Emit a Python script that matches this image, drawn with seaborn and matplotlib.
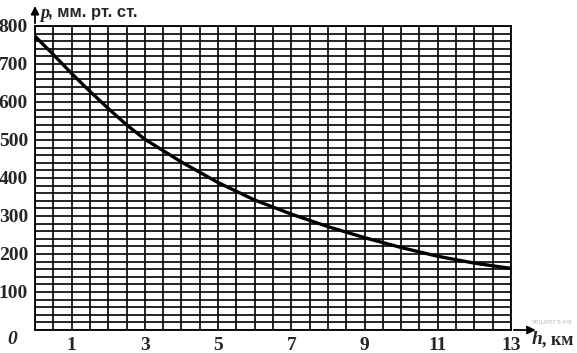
import numpy as np
import pandas as pd
import matplotlib
matplotlib.use("Agg")
import matplotlib.pyplot as plt
import seaborn as sns

# values
heights = [0, 0.5, 1, 1.5, 2, 2.5, 3, 4, 5, 6, 7, 8, 9, 10, 11, 12, 13]
pressure = [773, 725, 675, 628, 583, 540, 502, 442, 388, 342, 305, 272, 243, 217, 194, 176, 162]
x_labels = ["", "1", "", "3", "", "5", "", "7", "", "9", "", "11", "", "13"]
y_ticks = [100, 200, 300, 400, 500, 600, 700, 800]

df = pd.DataFrame({"h": heights, "p": pressure})

sns.set_style("white")
plt.rcParams["font.family"] = ["Liberation Serif", "DejaVu Serif"]

fig = plt.figure(figsize=(5.77, 3.53), dpi=100)
ax = fig.add_axes([35 / 577, 1 - 330 / 353, (511 - 35) / 577, (330 - 26) / 353])

sns.lineplot(data=df, x="h", y="p", color="black", linewidth=2.4, ax=ax, zorder=5)

ax.set_xlim(0, 13)
ax.set_ylim(0, 800)

ax.set_xticks(np.arange(0, 14, 1))
ax.set_xticklabels(x_labels)
ax.set_xticks(np.arange(0, 13.01, 0.5), minor=True)
ax.set_yticks(y_ticks)
ax.set_yticklabels([str(v) for v in y_ticks])
ax.set_yticks(np.arange(0, 801, 20), minor=True)

ax.grid(which="both", color="black", linewidth=1.2)
ax.tick_params(which="major", direction="out", length=4, width=1.2, color="black",
               labelsize=14, pad=1)
ax.tick_params(which="minor", length=0)
for lab in ax.get_xticklabels() + ax.get_yticklabels():
    lab.set_fontweight("bold")

for s in ax.spines.values():
    s.set_color("black")
    s.set_linewidth(1.3)

ax.set_xlabel("")
ax.set_ylabel("")

# axis arrows
ax.annotate("", xy=(13.75, 0), xytext=(13, 0), xycoords="data",
            arrowprops=dict(arrowstyle="-|>", color="black", lw=1.3, mutation_scale=12),
            annotation_clip=False)
ax.annotate("", xy=(0, 860), xytext=(0, 800), xycoords="data",
            arrowprops=dict(arrowstyle="-|>", color="black", lw=1.3, mutation_scale=12),
            annotation_clip=False)

fig.text(12 / 577, 1 - 340 / 353, "0", fontsize=14, fontstyle="italic", fontweight="bold",
         ha="center", va="center")
fig.text(40 / 577, 1 - 13 / 353, "p", fontsize=13, fontstyle="italic", fontweight="bold",
         ha="left", va="center")
fig.text(48 / 577, 1 - 13 / 353, ", мм. рт. ст.", fontsize=12,
         family=["Liberation Sans", "DejaVu Sans"], fontweight="bold", ha="left", va="center")
fig.text(532 / 577, 1 - 340 / 353, "h", fontsize=14, fontstyle="italic", fontweight="bold",
         ha="left", va="center")
fig.text(542 / 577, 1 - 340 / 353, ", км", fontsize=13, fontweight="bold",
         ha="left", va="center")
fig.text(572 / 577, 1 - 322 / 353, "РЕШУЕГЭ.РФ", fontsize=4.5, color="#bbbbbb",
         family=["DejaVu Sans"], ha="right", va="center")

fig.savefig("out.png", dpi=100)
